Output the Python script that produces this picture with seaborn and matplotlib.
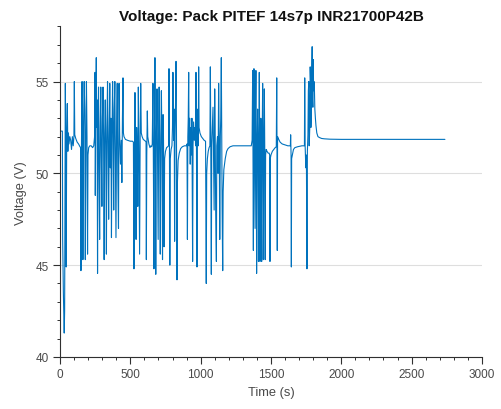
import pandas as pd
import numpy as np
import matplotlib
matplotlib.use('Agg')
import matplotlib.pyplot as plt
from matplotlib.ticker import MultipleLocator
import seaborn as sns

# pack voltage trace (time in s, voltage in V)
# first burst 0 - 400 s
t_a = [0, 17, 19, 24, 30, 33, 36, 38, 41, 44, 48, 52, 56, 60, 64, 70, 76, 82, 88, 94,
       99, 102, 105, 112, 122, 132, 142, 147, 149, 152, 157, 160, 163, 167, 172, 176,
       180, 184, 188, 192, 196, 199, 204, 212, 222, 232, 240, 246, 249, 251, 254, 258,
       261, 264, 267, 270, 274, 278, 282, 286, 290, 294, 298, 302, 306, 310, 314, 318,
       322, 326, 330, 334, 338, 342, 346, 350, 354, 358, 362, 366, 370, 374, 378, 382,
       386, 390, 394, 398]
v_a = [52.3, 52.3, 46.4, 43.5, 41.3, 42.5, 50.5, 54.9, 51.0, 44.9, 52.5, 53.8, 51.2, 52.2,
       51.6, 52.0, 51.8, 51.3, 52.0, 51.5, 52.0, 55.0, 52.1, 51.9, 51.7, 51.6, 51.45, 51.4,
       44.7, 51.0, 55.0, 52.0, 45.3, 52.5, 55.0, 53.5, 45.3, 51.8, 55.0, 52.0, 45.6, 51.0,
       51.4, 51.5, 51.5, 51.4, 51.5, 52.0, 55.5, 48.8, 53.0, 56.3, 52.5, 54.0, 44.55, 51.5,
       54.7, 50.0, 46.4, 52.5, 54.7, 51.0, 48.2, 53.0, 54.7, 51.8, 45.3, 52.2, 54.0, 51.5,
       45.6, 52.5, 55.0, 51.6, 47.5, 52.0, 54.9, 50.3, 53.0, 46.5, 52.0, 55.0, 52.5, 48.0,
       53.5, 55.0, 50.3, 46.5]

# 400 - 800 s
t_b = [402, 407, 411, 416, 420, 424, 430, 436, 440, 444, 448, 451, 455, 465, 480, 500,
       515, 522, 526, 529, 533, 537, 541, 545, 549, 553, 557, 561, 566, 570, 574, 578,
       584, 592, 600, 608, 612, 614, 617, 621, 624, 632, 640, 646, 652, 656, 661, 664,
       668, 671, 675, 678, 681, 685, 690, 694, 698, 701, 705, 709, 713, 717, 721, 725,
       729, 733, 736, 740, 744, 750, 758, 766, 772, 775, 778, 781, 784, 790, 796]
v_b = [52.0, 54.9, 50.0, 47.0, 54.9, 52.2, 50.5, 51.8, 49.5, 53.0, 55.2, 52.2, 52.0, 51.85,
       51.8, 51.75, 51.75, 51.7, 44.8, 50.5, 54.4, 51.5, 46.4, 52.5, 51.0, 48.2, 54.7, 51.5,
       45.6, 52.0, 54.9, 52.2, 52.0, 51.85, 51.8, 51.75, 51.7, 45.3, 51.0, 53.4, 52.0, 51.6,
       51.4, 51.5, 51.45, 51.6, 54.9, 51.0, 44.8, 51.5, 56.3, 52.0, 44.5, 51.8, 54.6, 50.5,
       46.4, 52.0, 54.7, 51.0, 45.6, 52.0, 54.5, 51.5, 45.3, 53.2, 51.8, 46.0, 50.8, 51.2,
       51.4, 51.45, 51.5, 55.7, 52.0, 45.0, 50.8, 51.3, 51.5]

# 800 - 1220 s
t_c = [800, 803, 806, 809, 812, 815, 818, 822, 825, 828, 832, 835, 840, 848, 858, 870,
       885, 898, 903, 906, 909, 912, 915, 918, 922, 926, 930, 934, 938, 943, 946, 950,
       955, 960, 964, 967, 970, 974, 977, 980, 983, 986, 989, 995, 1005, 1015, 1025, 1035,
       1040, 1043, 1048, 1054, 1060, 1066, 1069, 1072, 1076, 1079, 1083, 1088, 1092, 1096,
       1100, 1104, 1107, 1112, 1115, 1120, 1124, 1128, 1132, 1136, 1140, 1143, 1147, 1150,
       1153, 1157, 1160, 1165, 1175, 1185, 1195, 1210]
v_c = [52.5, 55.5, 53.0, 51.8, 53.5, 46.3, 52.0, 54.0, 56.1, 52.5, 44.2, 49.5, 50.7, 51.1,
       51.35, 51.45, 51.5, 51.5, 51.6, 46.4, 52.0, 53.0, 55.5, 51.5, 53.0, 50.5, 52.5, 51.0,
       53.0, 45.2, 51.5, 52.8, 51.8, 52.5, 51.5, 55.5, 52.0, 44.9, 52.0, 53.5, 51.5, 55.8,
       52.5, 52.2, 52.0, 51.9, 51.8, 51.75, 44.0, 50.0, 50.8, 51.2, 51.4, 51.5, 55.8, 52.0,
       44.5, 51.5, 52.5, 53.6, 50.5, 48.0, 54.6, 51.5, 48.0, 45.2, 51.5, 52.0, 50.0, 54.9,
       51.8, 46.4, 52.0, 53.0, 56.3, 52.0, 48.0, 44.7, 49.0, 50.2, 50.8, 51.2, 51.35, 51.45]

# rest, then 1360 - 1740 s
t_d = [1230, 1280, 1330, 1360, 1366, 1370, 1373, 1375, 1377, 1379, 1383, 1387, 1390, 1393,
       1396, 1398, 1401, 1405, 1408, 1411, 1414, 1417, 1420, 1422, 1425, 1428, 1431, 1434,
       1437, 1441, 1444, 1446, 1449, 1453, 1456, 1459, 1462, 1466, 1472, 1480, 1487, 1491,
       1493, 1495, 1500, 1510, 1520, 1530, 1538, 1541, 1543, 1545, 1547, 1552, 1565, 1580,
       1600, 1620, 1638, 1640, 1643, 1645, 1647, 1652, 1660, 1670, 1690, 1720, 1738]
v_d = [51.5, 51.5, 51.5, 51.5, 51.8, 55.6, 50.0, 45.8, 52.0, 55.7, 51.0, 47.0, 53.0, 55.6,
       50.0, 44.55, 51.0, 53.5, 51.0, 45.2, 51.5, 55.5, 51.5, 45.2, 50.5, 53.0, 49.0, 45.2,
       51.5, 54.9, 50.5, 45.3, 51.0, 54.6, 51.2, 45.3, 51.0, 51.3, 51.2, 51.1, 51.1, 51.0,
       45.2, 50.8, 51.0, 51.2, 51.3, 51.4, 51.45, 55.2, 51.5, 45.8, 52.0, 51.9, 51.7, 51.6,
       51.55, 51.5, 51.5, 52.1, 51.0, 44.9, 50.8, 51.0, 51.3, 51.4, 51.45, 51.5, 51.5]

# last burst and final rest
t_e = [1740, 1743, 1748, 1752, 1756, 1759, 1763, 1766, 1769, 1772, 1776, 1779, 1782, 1784,
       1787, 1790, 1793, 1796, 1798, 1801, 1803, 1806, 1809, 1812, 1816, 1820, 1826, 1834,
       1845, 1860, 1880, 1920, 2000, 2300, 2737]
v_e = [55.2, 51.5, 50.3, 51.0, 44.8, 51.2, 52.1, 54.5, 55.0, 51.5, 52.5, 55.8, 55.0, 52.5,
       53.5, 55.5, 56.9, 54.0, 53.6, 56.2, 54.5, 55.0, 54.6, 53.5, 53.0, 52.6, 52.2, 52.0,
       51.95, 51.9, 51.88, 51.86, 51.85, 51.85, 51.85]

df = pd.DataFrame({
    'Time': t_a + t_b + t_c + t_d + t_e,
    'Voltage': v_a + v_b + v_c + v_d + v_e,
})

sns.set_theme(style='white')
plt.rcParams['font.family'] = ['Liberation Sans', 'DejaVu Sans']
txt = '#4a4a4a'

fig = plt.figure(figsize=(5.02, 4.10), dpi=100)
ax = fig.add_axes([0.1195, 0.127, 0.8405, 0.806])

sns.lineplot(data=df, x='Time', y='Voltage', ax=ax, color='#0072BD', linewidth=0.8,
             estimator=None, sort=False)

ax.set_xlim(0, 3000)
ax.set_ylim(40, 58)
ax.xaxis.set_major_locator(MultipleLocator(500))
ax.xaxis.set_minor_locator(MultipleLocator(100))
ax.yaxis.set_major_locator(MultipleLocator(5))
ax.yaxis.set_minor_locator(MultipleLocator(1))
ax.yaxis.grid(True, which='major', color='#dedede', linewidth=0.8)
ax.set_axisbelow(True)

for s in ['top', 'right']:
    ax.spines[s].set_visible(False)
for s in ['left', 'bottom']:
    ax.spines[s].set_color('#303030')
    ax.spines[s].set_linewidth(0.8)

ax.tick_params(which='major', direction='out', length=5, width=0.8, color='#303030',
               labelsize=8.5, labelcolor=txt, pad=3, left=True, bottom=True)
ax.tick_params(which='minor', direction='out', length=2.5, width=0.7, color='#303030',
               left=True, bottom=True)

ax.set_xlabel('Time (s)', fontsize=9.3, color=txt, labelpad=4)
ax.set_ylabel('Voltage (V)', fontsize=9.3, color=txt, labelpad=6)
ax.set_title('Voltage: Pack PITEF 14s7p INR21700P42B', fontsize=11, fontweight='bold',
             color='#111111', pad=5)

fig.savefig('out.png', dpi=100)
